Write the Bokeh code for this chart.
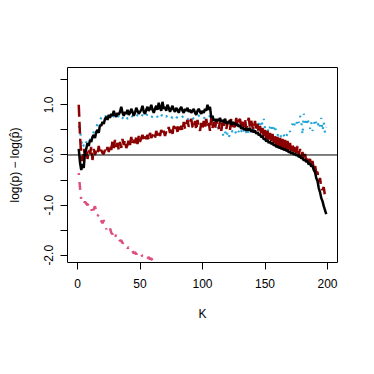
from bokeh.plotting import figure
from bokeh.models import Range1d, FixedTicker, CustomJSTickFormatter, Span
from bokeh.embed import file_html
from bokeh.resources import INLINE

# ---- data ----
k_main = list(range(1, 200))
black_vals = [
    0.12, -0.15, -0.30, -0.18, -0.26, 0.05, 0.12, 0.24, 0.18, 0.30,
    0.26, 0.36, 0.40, 0.34, 0.46, 0.50, 0.44, 0.60, 0.58, 0.66,
    0.62, 0.72, 0.76, 0.70, 0.80, 0.74, 0.82, 0.78, 0.88, 0.80,
    0.76, 0.84, 0.80, 0.86, 0.96, 0.84, 0.78, 0.86, 0.82, 0.90,
    0.80, 0.84, 0.92, 0.86, 0.78, 0.84, 0.94, 0.88, 0.82, 0.86,
    0.90, 0.98, 0.86, 0.82, 0.90, 0.96, 0.88, 0.92, 1.00, 0.90,
    0.84, 0.92, 0.98, 0.90, 1.04, 0.94, 0.88, 1.06, 0.92, 0.96,
    0.88, 1.00, 0.94, 0.86, 0.92, 0.98, 0.90, 0.86, 0.94, 0.90,
    0.84, 0.92, 0.96, 0.88, 0.84, 0.92, 0.88, 0.94, 0.86, 0.90,
    0.84, 0.88, 0.92, 0.84, 0.80, 0.88, 0.92, 0.86, 0.82, 0.88,
    0.84, 0.92, 0.88, 1.00, 0.90, 0.96, 0.74, 0.78, 0.68, 0.72,
    0.66, 0.72, 0.68, 0.74, 0.66, 0.70, 0.64, 0.72, 0.62, 0.66,
    0.64, 0.70, 0.60, 0.66, 0.62, 0.64, 0.58, 0.62, 0.56, 0.60,
    0.52, 0.56, 0.50, 0.54, 0.48, 0.53, 0.49, 0.54, 0.46, 0.50,
    0.45, 0.49, 0.42, 0.46, 0.39, 0.42, 0.35, 0.38, 0.31, 0.33,
    0.27, 0.30, 0.24, 0.27, 0.22, 0.24, 0.19, 0.21, 0.16, 0.18,
    0.14, 0.16, 0.12, 0.14, 0.10, 0.12, 0.08, 0.10, 0.05, 0.07,
    0.03, 0.05, 0.01, 0.03, -0.01, 0.01, -0.04, -0.02, -0.07, -0.05,
    -0.11, -0.09, -0.14, -0.12, -0.19, -0.16, -0.23, -0.21, -0.30, -0.34,
    -0.46, -0.52, -0.66, -0.74, -0.86, -0.92, -1.02, -1.10, -1.18,
]
red_vals = [
    1.00, 0.40, -0.05, -0.12, 0.12, 0.00, 0.14, -0.08, 0.10, 0.02,
    0.16, -0.10, 0.12, 0.00, 0.08, 0.02, 0.18, 0.02, 0.10, 0.04,
    0.02, 0.10, 0.04, 0.16, 0.06, 0.20, 0.10, 0.28, 0.14, 0.30,
    0.16, 0.24, 0.10, 0.26, 0.14, 0.32, 0.20, 0.30, 0.14, 0.20,
    0.30, 0.20, 0.36, 0.22, 0.30, 0.24, 0.36, 0.22, 0.38, 0.26,
    0.34, 0.40, 0.30, 0.38, 0.32, 0.40, 0.30, 0.44, 0.34, 0.38,
    0.42, 0.34, 0.48, 0.38, 0.46, 0.38, 0.50, 0.40, 0.48, 0.38,
    0.46, 0.44, 0.56, 0.44, 0.52, 0.42, 0.58, 0.48, 0.56, 0.46,
    0.62, 0.50, 0.58, 0.48, 0.66, 0.52, 0.62, 0.70, 0.56, 0.66,
    0.72, 0.56, 0.52, 0.68, 0.50, 0.70, 0.56, 0.48, 0.64, 0.52,
    0.68, 0.52, 0.72, 0.56, 0.64, 0.48, 0.74, 0.54, 0.66, 0.50,
    0.70, 0.56, 0.52, 0.68, 0.48, 0.64, 0.54, 0.72, 0.52, 0.62,
    0.68, 0.50, 0.72, 0.56, 0.64, 0.54, 0.74, 0.58, 0.68, 0.72,
    0.54, 0.66, 0.56, 0.72, 0.52, 0.64, 0.74, 0.54, 0.68, 0.56,
    0.50, 0.68, 0.48, 0.62, 0.44, 0.58, 0.40, 0.54, 0.36, 0.50,
    0.32, 0.48, 0.30, 0.44, 0.28, 0.42, 0.24, 0.38, 0.20, 0.36,
    0.18, 0.34, 0.16, 0.32, 0.14, 0.30, 0.12, 0.28, 0.10, 0.24,
    0.08, 0.22, 0.06, 0.20, 0.04, 0.18, 0.00, 0.12, -0.04, 0.06,
    -0.08, 0.02, -0.12, -0.02, -0.16, -0.08, -0.22, -0.12, -0.28, -0.20,
    -0.36, -0.34, -0.54, -0.46, -0.64, -0.70, -0.64, -0.82, -0.88,
]
blue_vals = [
    0.58, 0.50, 0.30, 0.14, 0.20, 0.16, 0.26, 0.24, 0.32, 0.30,
    0.36, 0.40, 0.46, 0.50, 0.56, 0.62, 0.68, 0.70, 0.74, 0.76,
    0.80, 0.76, 0.78, 0.84, 0.78, 0.74, 0.76, 0.72, 0.78, 0.76,
    0.72, 0.76, 0.78, 0.82, 0.76, 0.74, 0.72, 0.76, 0.78, 0.72,
    0.74, 0.78, 0.80, 0.76, 0.74, 0.72, 0.76, 0.80, 0.76, 0.74,
    0.76, 0.80, 0.76, 0.74, 0.78, 0.82, 0.78, 0.76, 0.74, 0.78,
    0.80, 0.82, 0.78, 0.76, 0.80, 0.84, 0.80, 0.78, 0.76, 0.80,
    0.76, 0.80, 0.82, 0.78, 0.76, 0.74, 0.78, 0.80, 0.76, 0.74,
    0.72, 0.76, 0.74, 0.76, 0.78, 0.74, 0.72, 0.70, 0.74, 0.76,
    0.78, 0.74, 0.72, 0.70, 0.74, 0.76, 0.78, 0.80, 0.76, 0.74,
    0.72, 0.76, 0.78, 0.80, 0.76, 0.78, 0.84, 0.78, 0.70, 0.62,
    0.56, 0.60, 0.50, 0.46, 0.54, 0.42, 0.38, 0.48, 0.36, 0.44,
    0.34, 0.44, 0.50, 0.46, 0.52, 0.48, 0.42, 0.50, 0.46, 0.54,
    0.48, 0.44, 0.52, 0.40, 0.46, 0.38, 0.50, 0.44, 0.48, 0.42,
    0.50, 0.46, 0.58, 0.52, 0.64, 0.56, 0.70, 0.60, 0.72, 0.54,
    0.48, 0.52, 0.44, 0.56, 0.62, 0.46, 0.52, 0.60, 0.42, 0.38,
    0.46, 0.40, 0.36, 0.44, 0.40, 0.32, 0.38, 0.42, 0.50, 0.46,
    0.58, 0.62, 0.54, 0.66, 0.60, 0.72, 0.64, 0.78, 0.68, 0.40,
    0.82, 0.70, 0.58, 0.74, 0.62, 0.52, 0.66, 0.48, 0.56, 0.72,
    0.64, 0.70, 0.52, 0.60, 0.74, 0.48, 0.66, 0.44, 0.56,
]
k_pink = list(range(1, 71))
pink_vals = [
    -0.36, -0.65, -0.90, -0.95, -0.98, -0.93, -0.97, -1.00, -0.96, -1.02,
    -1.05, -1.18, -1.08, -1.02, -1.15, -1.22, -1.18, -1.28, -1.32, -1.36,
    -1.30, -1.40, -1.48, -1.44, -1.50, -1.46, -1.55, -1.58, -1.52, -1.62,
    -1.60, -1.66, -1.64, -1.72, -1.70, -1.76, -1.74, -1.80, -1.82, -1.86,
    -1.84, -1.90, -1.88, -1.92, -1.96, -1.94, -1.98, -1.95, -2.00, -2.02,
    -1.99, -2.02, -2.00, -2.03, -2.02, -2.06, -2.04, -2.08, -2.06, -2.10,
    -2.16, -2.18, -2.20, -2.22, -2.24, -2.26, -2.28, -2.30, -2.32, -2.34,
]
x_ticks = [0, 50, 100, 150, 200]
y_ticks = [-2.0, -1.5, -1.0, -0.5, 0.0, 0.5, 1.0, 1.5]

FONT = "Liberation Sans"

p = figure(width=366, height=366, output_backend="svg", toolbar_location=None,
           x_range=Range1d(-8, 208), y_range=Range1d(-2.144, 1.744),
           min_border_left=67, min_border_right=29, min_border_top=67,
           min_border_bottom=104)
p.grid.visible = False
p.outline_line_color = "black"
p.outline_line_width = 1
p.background_fill_color = "white"
p.border_fill_color = "white"

p.line(k_pink, pink_vals, line_color="#DF4E80", line_width=2.5,
       line_dash="2 7 8 7")
p.line(k_main, blue_vals, line_color="#1FA5D8", line_width=2.2,
       line_dash="2 6")
p.line(k_main, red_vals, line_color="#8B0000", line_width=2.5,
       line_dash="12 5")
p.line(k_main, black_vals, line_color="black", line_width=2.5)

p.add_layout(Span(location=0, dimension="width", line_color="black",
                  line_width=1))

for ax in (p.xaxis[0], p.yaxis[0]):
    ax.axis_line_color = None
    ax.major_tick_line_color = "black"
    ax.major_tick_out = 7
    ax.major_tick_in = 0
    ax.minor_tick_line_color = None
    ax.major_label_text_font = FONT
    ax.major_label_text_font_size = "12px"
    ax.major_label_text_color = "black"
    ax.axis_label_text_font = FONT
    ax.axis_label_text_font_size = "12px"
    ax.axis_label_text_font_style = "normal"
    ax.axis_label_text_color = "black"

p.xaxis.ticker = FixedTicker(ticks=x_ticks)
p.xaxis.major_label_standoff = 9
p.xaxis.axis_label = "K"
p.xaxis.axis_label_standoff = 16

p.yaxis.ticker = FixedTicker(ticks=y_ticks)
p.yaxis.formatter = CustomJSTickFormatter(
    code="return (Math.abs(tick - Math.round(tick)) < 1e-9) ? tick.toFixed(1) : '';")
p.yaxis.major_label_orientation = "vertical"
p.yaxis.major_label_standoff = 7
p.yaxis.axis_label = "log(p) \u2212 log(p\u0302)"
p.yaxis.axis_label_standoff = 20

open("out.html", "w").write(file_html(p, INLINE))
